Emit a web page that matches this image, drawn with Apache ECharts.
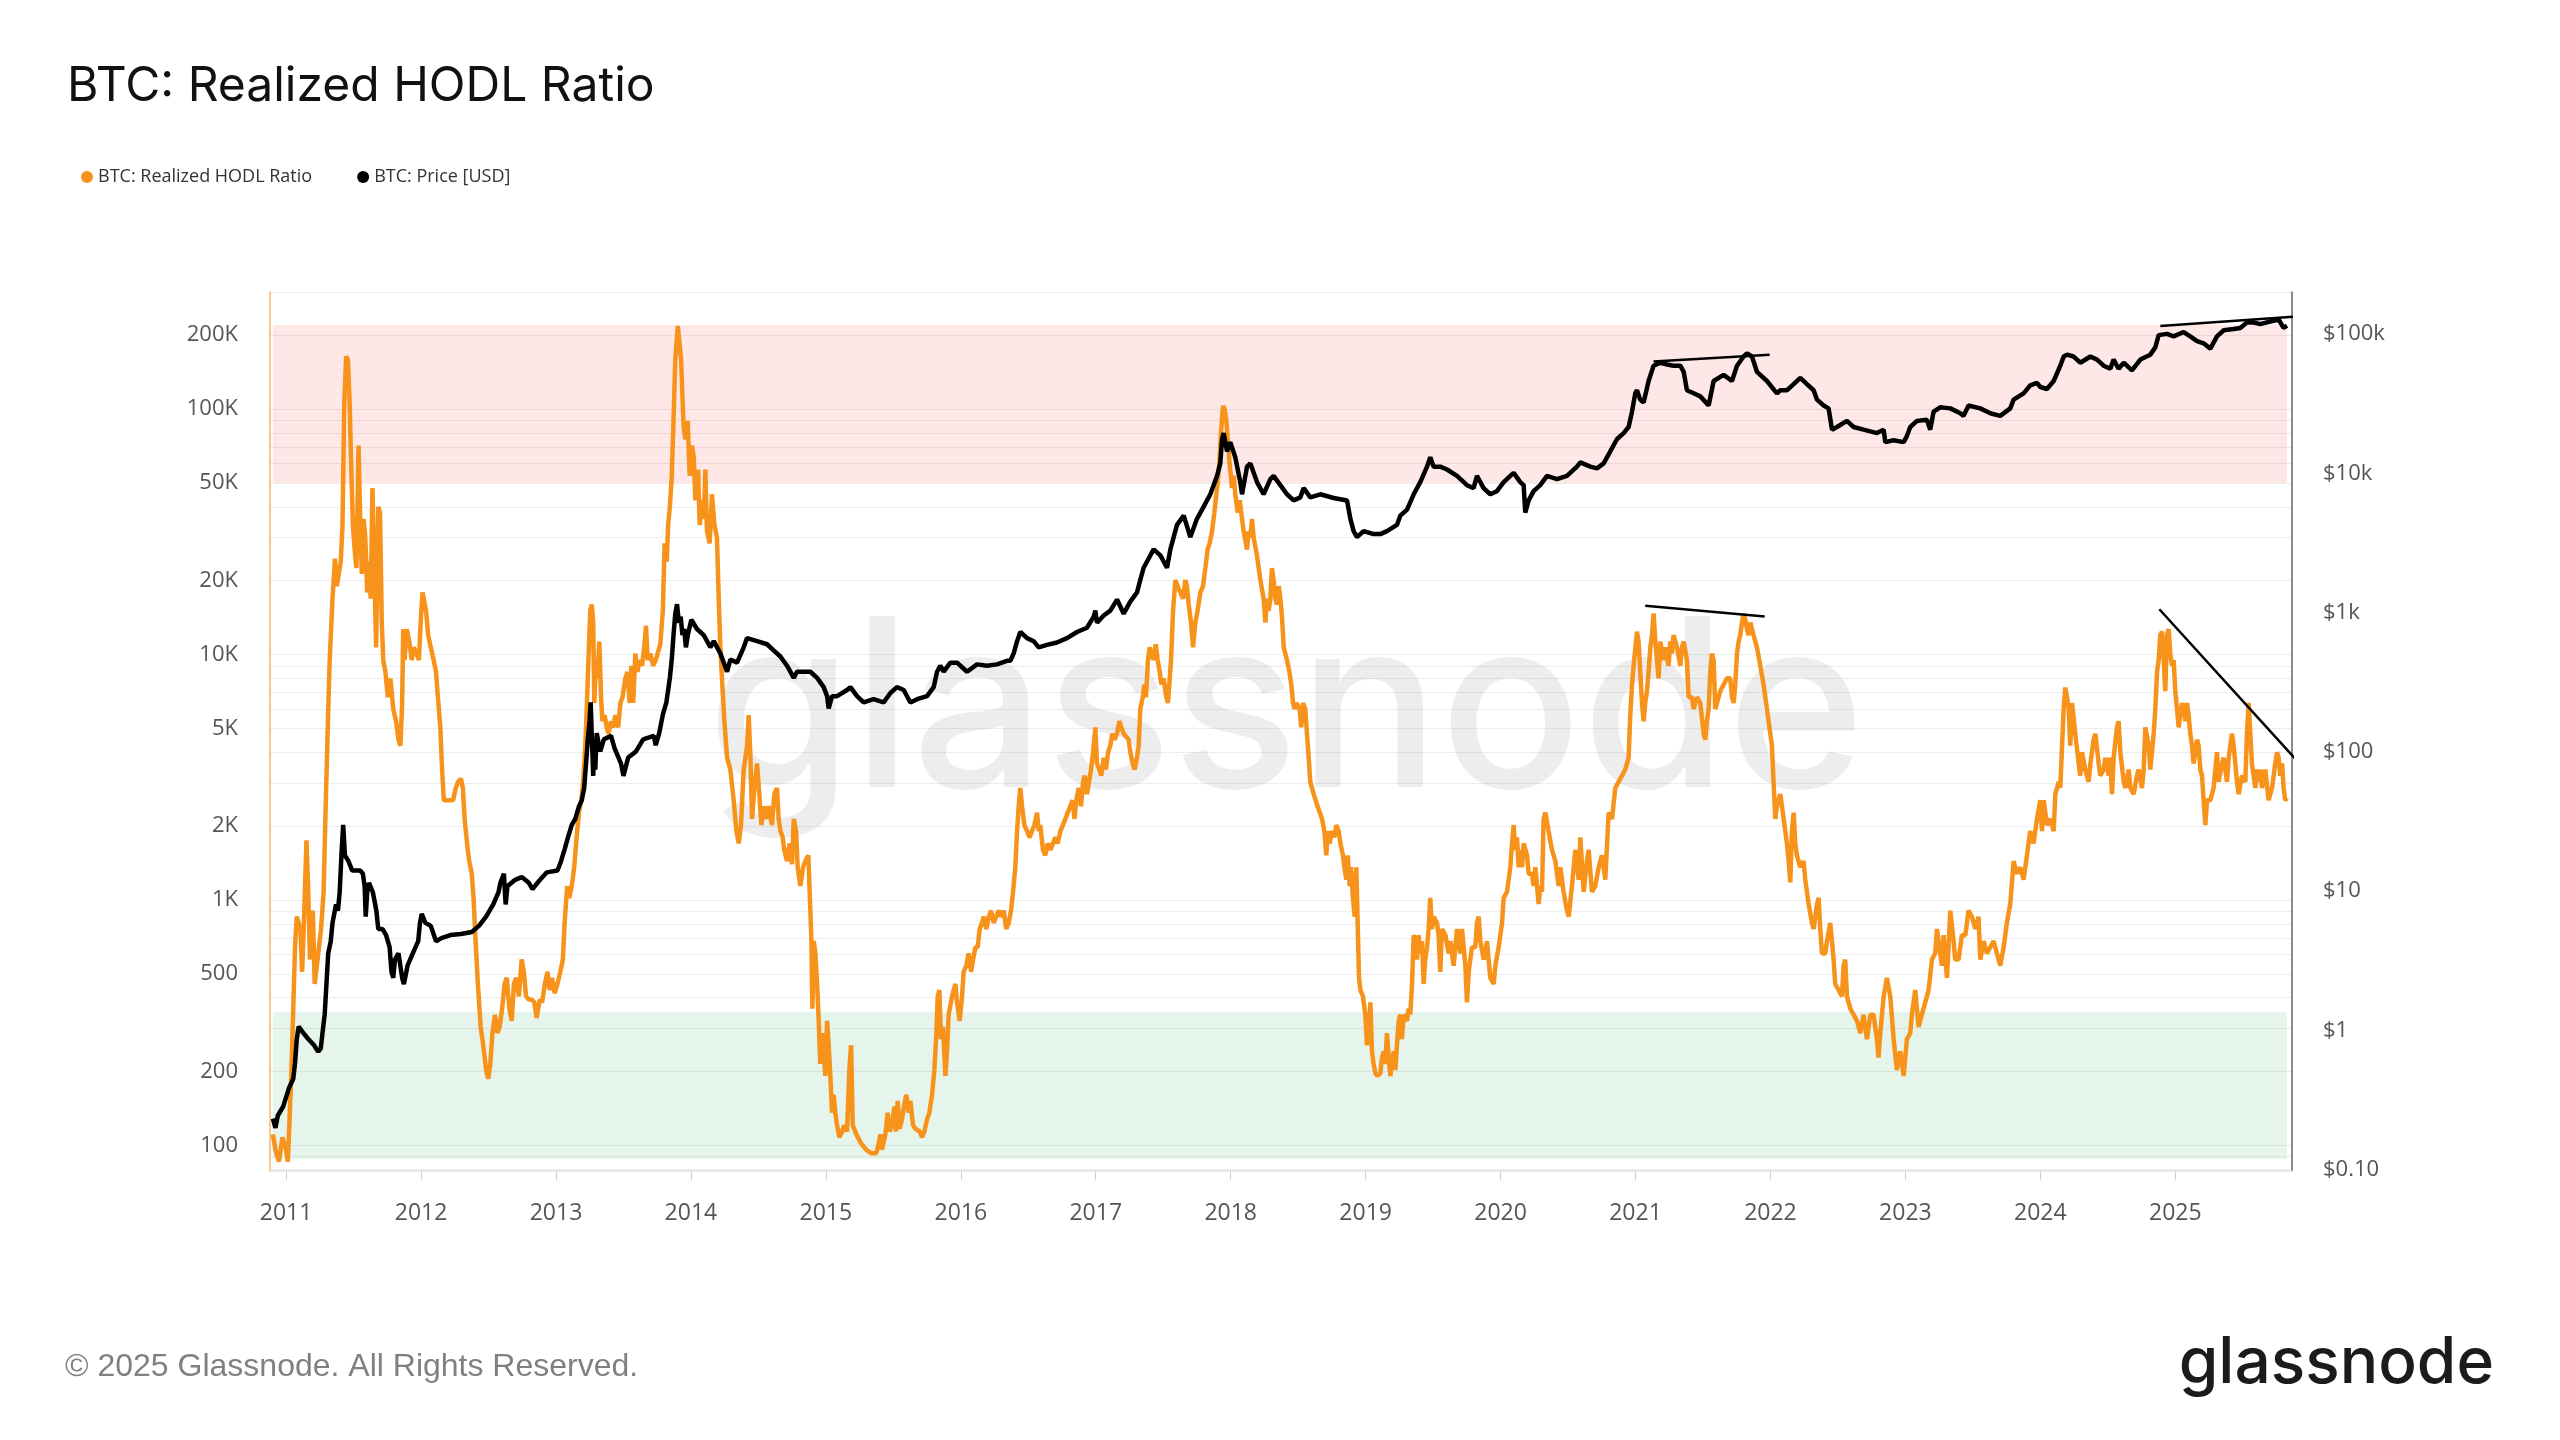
<!DOCTYPE html>
<html>
<head>
<meta charset="utf-8">
<title>BTC: Realized HODL Ratio</title>
<script src="https://cdn.jsdelivr.net/npm/echarts@6/dist/echarts.min.js"></script>
<style>
  html, body { margin: 0; padding: 0; background: #fff; }
  #chart { width: 2560px; height: 1440px; }
</style>
</head>
<body>
<div id="chart"></div>
<script>
// values, [decimal year, value]
const hodlRatio = [
  [2010.902,111],[2010.921,96],[2010.947,86],[2010.973,108],[2011.000,96],[2011.013,86],[2011.040,203],[2011.066,642],
  [2011.079,855],[2011.106,762],[2011.119,510],[2011.132,807],[2011.151,1750],[2011.164,1080],[2011.177,572],[2011.198,905],
  [2011.212,455],[2011.238,606],[2011.259,762],[2011.278,1080],[2011.291,2140],[2011.310,5350],[2011.323,9500],[2011.344,16900],
  [2011.362,24600],[2011.376,19000],[2011.405,23900],[2011.418,33700],[2011.431,106000],[2011.445,164000],[2011.458,159000],
  [2011.471,106000],[2011.482,60000],[2011.495,33700],[2011.508,26800],[2011.521,22500],[2011.537,71000],[2011.550,33700],
  [2011.561,21300],[2011.574,35700],[2011.587,30000],[2011.601,17900],[2011.614,23900],[2011.627,16900],[2011.640,47700],
  [2011.654,47700],[2011.667,10700],[2011.683,40000],[2011.696,37900],[2011.709,13500],[2011.720,9500],[2011.736,8500],
  [2011.754,6700],[2011.773,8000],[2011.794,6000],[2011.815,5350],[2011.833,4500],[2011.847,4250],[2011.860,6350],
  [2011.868,12700],[2011.878,9500],[2011.894,12700],[2011.913,11300],[2011.931,9500],[2011.947,10700],[2011.966,10100],
  [2011.984,9500],[2011.997,13500],[2012.011,17900],[2012.024,17900],[2012.037,15100],[2012.053,12000],[2012.072,10700],
  [2012.093,9500],[2012.111,8500],[2012.125,6700],[2012.143,5050],[2012.156,3400],[2012.169,2550],[2012.204,2550],
  [2012.238,2550],[2012.257,2860],[2012.275,3030],[2012.296,3120],[2012.310,2860],[2012.323,2140],[2012.341,1700],
  [2012.357,1440],[2012.376,1280],[2012.389,1020],[2012.402,719],[2012.421,455],[2012.442,304],[2012.461,256],[2012.482,203],
  [2012.498,187],[2012.513,215],[2012.529,287],[2012.548,341],[2012.566,287],[2012.582,304],[2012.601,361],[2012.619,455],
  [2012.635,482],[2012.654,361],[2012.672,322],[2012.688,455],[2012.707,482],[2012.725,405],[2012.746,573],[2012.762,510],
  [2012.778,405],[2012.799,393],[2012.820,393],[2012.839,383],[2012.857,331],[2012.879,393],[2012.897,383],[2012.918,455],
  [2012.937,510],[2012.953,430],[2012.971,482],[2012.990,417],[2013.011,455],[2013.032,510],[2013.051,572],[2013.064,807],
  [2013.083,1140],[2013.098,1020],[2013.117,1140],[2013.135,1360],[2013.149,1700],[2013.170,2270],[2013.188,2550],
  [2013.201,3030],[2013.217,4250],[2013.228,6000],[2013.244,10700],[2013.254,15100],[2013.265,16000],[2013.276,13500],
  [2013.284,6350],[2013.297,9500],[2013.307,8000],[2013.321,11300],[2013.334,6700],[2013.344,5350],[2013.360,5670],
  [2013.376,5050],[2013.389,4760],[2013.408,5350],[2013.424,5050],[2013.440,5670],[2013.461,5050],[2013.477,6350],
  [2013.493,6700],[2013.514,8000],[2013.530,8500],[2013.546,6350],[2013.559,9000],[2013.572,6350],[2013.588,10100],
  [2013.604,8500],[2013.620,9500],[2013.638,9000],[2013.654,10700],[2013.667,13100],[2013.680,9500],[2013.699,10100],
  [2013.720,9000],[2013.739,9500],[2013.773,11000],[2013.792,15100],[2013.805,28400],[2013.821,23900],[2013.831,33700],
  [2013.844,40000],[2013.858,53500],[2013.871,89500],[2013.884,159000],[2013.903,218000],[2013.927,159000],[2013.946,84500],
  [2013.959,75300],[2013.976,89500],[2013.991,53500],[2014.008,71000],[2014.021,63500],[2014.033,42500],[2014.053,56700],
  [2014.065,33700],[2014.082,42500],[2014.095,35700],[2014.107,56700],[2014.119,31800],[2014.139,28400],[2014.156,45000],
  [2014.174,33700],[2014.193,30000],[2014.206,16900],[2014.218,10700],[2014.230,8000],[2014.248,5350],[2014.268,3800],
  [2014.292,3400],[2014.317,2550],[2014.337,1910],[2014.354,1700],[2014.371,2020],[2014.391,3400],[2014.416,4250],
  [2014.428,5670],[2014.441,3800],[2014.453,2140],[2014.470,2860],[2014.490,3600],[2014.507,2700],[2014.522,2020],
  [2014.539,2410],[2014.559,2140],[2014.576,2410],[2014.601,2020],[2014.618,2700],[2014.638,2860],[2014.650,2140],
  [2014.663,1910],[2014.680,1800],[2014.692,1600],[2014.712,1440],[2014.732,1700],[2014.749,1400],[2014.762,2140],
  [2014.779,1910],[2014.791,1360],[2014.811,1140],[2014.831,1360],[2014.848,1440],[2014.870,1520],[2014.880,1080],
  [2014.893,680],[2014.900,361],[2014.910,680],[2014.922,606],[2014.935,455],[2014.947,322],[2014.959,215],[2014.972,287],
  [2014.984,242],[2014.996,192],[2015.009,322],[2015.021,256],[2015.033,192],[2015.046,136],[2015.058,161],[2015.070,136],
  [2015.083,121],[2015.100,108],[2015.120,114],[2015.137,121],[2015.157,114],[2015.174,203],[2015.187,256],[2015.199,121],
  [2015.226,111],[2015.261,102],[2015.300,96],[2015.335,93],[2015.374,93],[2015.392,102],[2015.404,111],[2015.416,96],
  [2015.441,111],[2015.458,136],[2015.473,114],[2015.490,121],[2015.508,144],[2015.520,114],[2015.532,152],[2015.547,117],
  [2015.564,128],[2015.582,148],[2015.596,161],[2015.614,136],[2015.626,152],[2015.646,121],[2015.663,117],[2015.695,114],
  [2015.713,108],[2015.730,114],[2015.750,128],[2015.767,136],[2015.787,161],[2015.804,203],[2015.819,287],[2015.829,405],
  [2015.841,430],[2015.853,271],[2015.868,304],[2015.886,192],[2015.898,242],[2015.910,341],[2015.935,405],[2015.960,455],
  [2015.972,383],[2015.992,322],[2016.009,405],[2016.021,510],[2016.041,540],[2016.058,606],[2016.076,510],[2016.091,572],
  [2016.108,642],[2016.125,642],[2016.140,762],[2016.157,807],[2016.170,855],[2016.189,762],[2016.207,855],[2016.224,905],
  [2016.244,807],[2016.261,855],[2016.281,905],[2016.298,855],[2016.318,905],[2016.337,762],[2016.355,807],[2016.372,905],
  [2016.387,1080],[2016.404,1360],[2016.417,1910],[2016.429,2410],[2016.441,2860],[2016.454,2410],[2016.471,2020],
  [2016.491,1910],[2016.510,1800],[2016.528,1910],[2016.545,2020],[2016.565,2270],[2016.577,1910],[2016.589,2020],
  [2016.609,1600],[2016.626,1520],[2016.644,1700],[2016.664,1600],[2016.683,1700],[2016.701,1800],[2016.718,1700],
  [2016.738,1910],[2016.757,2020],[2016.775,2140],[2016.792,2270],[2016.812,2410],[2016.829,2550],[2016.842,2140],
  [2016.856,2550],[2016.874,2860],[2016.891,2410],[2016.906,3030],[2016.918,3210],[2016.935,2700],[2016.948,2700],
  [2016.965,3400],[2016.980,4000],[2016.997,5050],[2017.009,3600],[2017.027,3400],[2017.041,3210],[2017.059,3800],
  [2017.076,3400],[2017.091,4000],[2017.108,4250],[2017.123,4760],[2017.140,4500],[2017.158,4760],[2017.175,5350],
  [2017.190,5050],[2017.207,4760],[2017.244,4500],[2017.256,4000],[2017.274,3600],[2017.288,3400],[2017.306,3800],
  [2017.318,4250],[2017.330,6000],[2017.348,6700],[2017.360,7550],[2017.372,6700],[2017.387,9500],[2017.400,10700],
  [2017.412,10100],[2017.429,9500],[2017.444,11000],[2017.459,9500],[2017.474,8500],[2017.486,7550],[2017.503,8000],
  [2017.523,6700],[2017.535,6350],[2017.558,9500],[2017.573,15100],[2017.590,20100],[2017.607,19000],[2017.627,17900],
  [2017.647,16900],[2017.664,20100],[2017.676,19000],[2017.689,16000],[2017.706,13500],[2017.721,10700],[2017.738,13500],
  [2017.755,15100],[2017.775,17900],[2017.795,19000],[2017.812,22500],[2017.829,26800],[2017.844,28400],[2017.862,31800],
  [2017.879,37900],[2017.899,47700],[2017.916,60000],[2017.928,79800],[2017.943,103000],[2017.955,100000],[2017.968,89500],
  [2017.978,75300],[2017.992,60000],[2018.010,47700],[2018.022,53500],[2018.034,45000],[2018.052,37900],[2018.067,42500],
  [2018.084,35700],[2018.096,31800],[2018.121,26800],[2018.133,31800],[2018.146,30000],[2018.158,35700],[2018.170,30000],
  [2018.195,25300],[2018.220,20100],[2018.244,16900],[2018.257,13500],[2018.269,16900],[2018.281,15100],[2018.294,16900],
  [2018.306,22500],[2018.318,20100],[2018.331,16900],[2018.343,16000],[2018.356,19000],[2018.368,16900],[2018.380,14300],
  [2018.393,10700],[2018.417,9500],[2018.435,8500],[2018.449,7550],[2018.462,6350],[2018.474,6000],[2018.487,6350],
  [2018.511,6000],[2018.523,5050],[2018.536,6350],[2018.553,6000],[2018.565,4760],[2018.578,3800],[2018.590,3030],
  [2018.615,2700],[2018.644,2410],[2018.677,2140],[2018.694,1910],[2018.709,1520],[2018.719,1910],[2018.733,1700],
  [2018.751,1910],[2018.768,1800],[2018.783,2020],[2018.800,1910],[2018.813,1700],[2018.832,1520],[2018.842,1360],
  [2018.857,1210],[2018.867,1520],[2018.882,1140],[2018.892,1360],[2018.906,1020],[2018.919,855],[2018.931,1360],
  [2018.941,807],[2018.951,482],[2018.961,430],[2018.980,405],[2018.998,341],[2019.010,256],[2019.022,287],[2019.035,383],
  [2019.047,242],[2019.059,215],[2019.072,197],[2019.084,192],[2019.109,197],[2019.121,228],[2019.134,242],[2019.146,215],
  [2019.158,287],[2019.171,228],[2019.183,192],[2019.195,215],[2019.208,242],[2019.220,203],[2019.232,256],[2019.245,322],
  [2019.257,341],[2019.269,271],[2019.282,341],[2019.307,322],[2019.319,361],[2019.331,341],[2019.344,455],[2019.356,719],
  [2019.368,680],[2019.381,572],[2019.393,719],[2019.405,606],[2019.418,680],[2019.430,455],[2019.442,572],[2019.455,642],
  [2019.467,762],[2019.479,1020],[2019.492,762],[2019.504,855],[2019.529,807],[2019.541,719],[2019.553,510],[2019.566,762],
  [2019.591,719],[2019.615,606],[2019.628,680],[2019.652,540],[2019.677,762],[2019.702,606],[2019.714,762],[2019.739,540],
  [2019.751,383],[2019.764,510],[2019.788,642],[2019.813,642],[2019.825,807],[2019.838,855],[2019.850,680],[2019.875,572],
  [2019.899,680],[2019.924,482],[2019.949,455],[2019.961,540],[2019.986,642],[2020.011,807],[2020.023,1020],[2020.048,1080],
  [2020.072,1360],[2020.085,1700],[2020.097,2020],[2020.109,1600],[2020.122,1800],[2020.134,1360],[2020.146,1600],
  [2020.159,1360],[2020.171,1700],[2020.196,1520],[2020.208,1280],[2020.233,1280],[2020.245,1140],[2020.258,1360],
  [2020.282,962],[2020.294,1140],[2020.307,1080],[2020.319,2140],[2020.332,2270],[2020.356,1910],[2020.381,1600],
  [2020.406,1440],[2020.430,1140],[2020.443,1360],[2020.467,1080],[2020.492,905],[2020.505,855],[2020.529,1140],
  [2020.554,1600],[2020.579,1210],[2020.591,1800],[2020.616,1080],[2020.640,1440],[2020.653,1600],[2020.677,1080],
  [2020.702,1140],[2020.727,1360],[2020.751,1520],[2020.776,1210],[2020.801,2270],[2020.826,2140],[2020.850,2860],
  [2020.875,3030],[2020.900,3210],[2020.924,3400],[2020.949,3800],[2020.961,5670],[2020.974,7550],[2020.986,9000],
  [2021.011,12400],[2021.023,11300],[2021.035,8500],[2021.048,6350],[2021.060,5350],[2021.072,6350],[2021.085,7100],
  [2021.097,8500],[2021.110,10700],[2021.122,12000],[2021.134,14700],[2021.147,11300],[2021.159,9500],[2021.171,8000],
  [2021.184,11300],[2021.208,9500],[2021.221,10700],[2021.245,9000],[2021.258,11300],[2021.270,10100],[2021.282,12000],
  [2021.307,10700],[2021.332,9000],[2021.344,10700],[2021.357,11300],[2021.381,9500],[2021.394,6700],[2021.418,6700],
  [2021.431,6000],[2021.455,6700],[2021.480,6350],[2021.505,4760],[2021.517,4500],[2021.529,5350],[2021.542,6000],
  [2021.554,8500],[2021.566,10100],[2021.579,9500],[2021.591,6000],[2021.604,6350],[2021.628,7100],[2021.653,7550],
  [2021.678,8000],[2021.702,8000],[2021.715,6700],[2021.727,6350],[2021.739,7550],[2021.752,10100],[2021.764,11300],
  [2021.776,12000],[2021.789,13500],[2021.801,14700],[2021.813,13900],[2021.826,12700],[2021.838,12000],[2021.851,13500],
  [2021.863,12700],[2021.875,12000],[2021.900,10700],[2021.925,9000],[2021.949,7550],[2021.974,6000],[2021.999,4760],
  [2022.011,4250],[2022.023,3030],[2022.036,2140],[2022.048,2410],[2022.073,2700],[2022.098,2140],[2022.122,1700],
  [2022.135,1440],[2022.147,1180],[2022.159,1910],[2022.172,2270],[2022.184,1700],[2022.196,1520],[2022.221,1360],
  [2022.246,1440],[2022.258,1210],[2022.283,962],[2022.307,807],[2022.320,762],[2022.345,962],[2022.357,1020],[2022.369,762],
  [2022.382,606],[2022.406,606],[2022.419,680],[2022.443,807],[2022.456,680],[2022.468,572],[2022.480,455],[2022.505,430],
  [2022.530,405],[2022.542,540],[2022.554,572],[2022.567,405],[2022.592,361],[2022.616,341],[2022.641,322],[2022.666,287],
  [2022.690,341],[2022.715,271],[2022.740,341],[2022.764,341],[2022.789,271],[2022.801,228],[2022.814,287],[2022.839,405],
  [2022.863,482],[2022.888,405],[2022.913,271],[2022.937,203],[2022.962,242],[2022.987,192],[2023.011,271],[2023.036,287],
  [2023.048,341],[2023.073,430],[2023.098,304],[2023.122,341],[2023.147,383],[2023.172,430],[2023.197,572],[2023.221,606],
  [2023.234,762],[2023.258,606],[2023.271,540],[2023.283,719],[2023.308,482],[2023.333,905],[2023.357,680],[2023.369,572],
  [2023.394,572],[2023.419,719],[2023.444,719],[2023.468,905],[2023.493,855],[2023.518,762],[2023.542,855],[2023.555,572],
  [2023.580,680],[2023.604,606],[2023.629,642],[2023.654,680],[2023.678,606],[2023.703,540],[2023.728,642],[2023.752,807],
  [2023.777,962],[2023.802,1440],[2023.826,1280],[2023.851,1360],[2023.876,1210],[2023.901,1520],[2023.925,1910],
  [2023.950,1700],[2023.975,2140],[2024.000,2550],[2024.012,1910],[2024.025,2550],[2024.049,2020],[2024.074,2140],
  [2024.099,1910],[2024.111,2700],[2024.136,3030],[2024.148,2860],[2024.161,4250],[2024.173,6000],[2024.185,7340],
  [2024.198,6700],[2024.210,6000],[2024.222,4250],[2024.235,6350],[2024.259,4760],[2024.284,3600],[2024.296,3210],
  [2024.309,4000],[2024.333,3400],[2024.358,3030],[2024.371,3600],[2024.395,4500],[2024.408,4760],[2024.432,3600],
  [2024.445,3210],[2024.469,3400],[2024.482,3800],[2024.506,3210],[2024.519,3800],[2024.531,2700],[2024.543,3800],
  [2024.568,5050],[2024.580,5350],[2024.593,4000],[2024.618,3030],[2024.630,2860],[2024.655,3400],[2024.667,2860],
  [2024.692,2700],[2024.716,3210],[2024.729,3400],[2024.753,2860],[2024.766,3400],[2024.778,5050],[2024.803,4250],
  [2024.815,3400],[2024.840,4760],[2024.852,6000],[2024.865,8500],[2024.877,9500],[2024.889,12000],[2024.902,12400],
  [2024.914,9500],[2024.926,7100],[2024.939,12000],[2024.951,12700],[2024.963,10100],[2024.976,9000],[2024.988,9500],
  [2025.000,7100],[2025.013,6000],[2025.025,5050],[2025.037,5670],[2025.050,6350],[2025.062,6000],[2025.074,5350],
  [2025.087,6350],[2025.099,5670],[2025.111,4760],[2025.124,4250],[2025.136,3600],[2025.149,4000],[2025.161,4500],
  [2025.173,4250],[2025.186,3400],[2025.198,3210],[2025.210,2550],[2025.223,2020],[2025.235,2550],[2025.260,2550],
  [2025.272,2700],[2025.284,2860],[2025.297,3400],[2025.309,4000],[2025.321,3030],[2025.346,3600],[2025.359,3800],
  [2025.383,3030],[2025.396,3800],[2025.420,4760],[2025.433,4250],[2025.457,3030],[2025.470,2700],[2025.494,3210],
  [2025.519,3030],[2025.531,4760],[2025.544,6350],[2025.556,4760],[2025.568,3600],[2025.593,2860],[2025.606,3400],
  [2025.618,3030],[2025.630,3400],[2025.643,2860],[2025.667,3400],[2025.692,2550],[2025.717,2860],[2025.741,3600],
  [2025.754,4000],[2025.766,3800],[2025.778,3210],[2025.791,3600],[2025.803,2860],[2025.815,2550],[2025.828,2600]
];

const btcPrice = [
  [2010.902,0.225],[2010.921,0.193],[2010.939,0.237],[2010.979,0.276],[2011.021,0.373],[2011.053,0.435],[2011.066,0.56],
  [2011.079,0.84],[2011.093,1.03],[2011.127,0.93],[2011.164,0.84],[2011.206,0.76],[2011.238,0.68],[2011.257,0.72],
  [2011.270,0.93],[2011.286,1.26],[2011.299,2.08],[2011.312,3.46],[2011.331,4.23],[2011.344,5.73],[2011.370,7.76],
  [2011.384,7.0],[2011.397,9.5],[2011.410,17.5],[2011.423,28.9],[2011.436,17.5],[2011.463,15.8],[2011.490,13.6],
  [2011.516,13.6],[2011.550,13.6],[2011.569,12.9],[2011.582,10.5],[2011.590,6.34],[2011.601,9.5],[2011.614,11.1],
  [2011.643,9.5],[2011.669,7.0],[2011.683,5.18],[2011.714,5.18],[2011.741,4.68],[2011.767,3.83],[2011.781,2.55],
  [2011.794,2.31],[2011.807,3.13],[2011.833,3.46],[2011.860,2.31],[2011.873,2.08],[2011.900,2.82],[2011.939,3.46],
  [2011.979,4.23],[2011.992,5.73],[2012.005,6.65],[2012.032,5.73],[2012.072,5.45],[2012.111,4.23],[2012.151,4.45],
  [2012.217,4.68],[2012.296,4.77],[2012.376,4.93],[2012.429,5.45],[2012.482,6.34],[2012.535,7.76],[2012.574,9.5],
  [2012.588,11.1],[2012.614,12.9],[2012.627,7.76],[2012.640,10.5],[2012.693,11.6],[2012.746,12.2],[2012.799,11.1],
  [2012.826,10.0],[2012.879,11.6],[2012.932,13.2],[2013.011,13.6],[2013.037,15.8],[2013.064,19.3],[2013.090,23.7],
  [2013.117,28.9],[2013.143,32],[2013.170,39.2],[2013.191,43.4],[2013.209,53.2],[2013.223,79.6],[2013.236,119],
  [2013.249,162],[2013.257,219],[2013.268,108],[2013.276,65],[2013.283,108],[2013.291,72],[2013.302,132],[2013.328,97.5],
  [2013.355,119],[2013.408,126],[2013.434,103],[2013.482,79.6],[2013.500,65],[2013.535,88],[2013.593,97.5],[2013.646,119],
  [2013.725,126],[2013.739,108],[2013.765,132],[2013.792,179],[2013.818,219],[2013.844,329],[2013.858,445],[2013.871,667],
  [2013.884,950],[2013.897,1110],[2013.911,817],[2013.924,904],[2013.937,667],[2013.950,738],[2013.963,545],[2013.977,667],
  [2014.003,860],[2014.045,738],[2014.095,667],[2014.144,545],[2014.169,603],[2014.218,493],[2014.268,364],[2014.292,445],
  [2014.342,423],[2014.391,545],[2014.416,634],[2014.490,603],[2014.564,573],[2014.613,518],[2014.663,468],[2014.712,402],
  [2014.762,329],[2014.786,364],[2014.836,364],[2014.885,364],[2014.935,329],[2014.984,282],[2015.009,243],[2015.021,198],
  [2015.033,219],[2015.046,243],[2015.083,243],[2015.157,269],[2015.182,282],[2015.231,243],[2015.280,219],[2015.354,231],
  [2015.428,219],[2015.478,256],[2015.527,282],[2015.577,269],[2015.626,219],[2015.676,231],[2015.750,243],[2015.799,282],
  [2015.824,364],[2015.848,402],[2015.873,364],[2015.923,423],[2015.972,423],[2016.046,364],[2016.120,411],[2016.194,402],
  [2016.268,411],[2016.342,436],[2016.367,436],[2016.392,493],[2016.417,603],[2016.441,702],[2016.491,634],[2016.540,603],
  [2016.577,545],[2016.639,567],[2016.713,590],[2016.787,634],[2016.861,702],[2016.935,753],[2016.985,904],[2016.997,1000],
  [2017.009,817],[2017.059,922],[2017.108,1000],[2017.158,1200],[2017.207,950],[2017.256,1160],[2017.306,1350],
  [2017.330,1660],[2017.355,2030],[2017.380,2250],[2017.429,2750],[2017.479,2490],[2017.528,2030],[2017.553,2750],
  [2017.602,4120],[2017.652,4800],[2017.701,3370],[2017.750,4560],[2017.800,5580],[2017.849,6840],[2017.899,9270],
  [2017.923,11400],[2017.936,17000],[2017.948,18800],[2017.973,13900],[2017.997,16200],[2018.034,12600],[2018.071,8370],
  [2018.084,6840],[2018.121,10800],[2018.146,11400],[2018.195,8370],[2018.244,6840],[2018.294,8800],[2018.318,9270],
  [2018.368,7950],[2018.417,6840],[2018.467,6180],[2018.516,6500],[2018.541,7570],[2018.590,6500],[2018.664,6840],
  [2018.763,6430],[2018.862,6180],[2018.887,4560],[2018.911,3720],[2018.936,3370],[2018.985,3720],[2019.059,3540],
  [2019.109,3540],[2019.158,3720],[2019.232,4120],[2019.257,4800],[2019.307,5310],[2019.356,6840],[2019.405,8370],
  [2019.455,10800],[2019.479,12600],[2019.504,10800],[2019.553,10800],[2019.603,10300],[2019.677,9270],[2019.751,7950],
  [2019.800,7570],[2019.825,9270],[2019.874,7570],[2019.924,6840],[2019.973,7200],[2020.023,8370],[2020.072,9270],
  [2020.097,9750],[2020.146,8370],[2020.171,7950],[2020.183,5050],[2020.208,6180],[2020.245,7200],[2020.294,7950],
  [2020.344,9270],[2020.418,8800],[2020.492,9270],[2020.566,10800],[2020.591,11600],[2020.665,10800],[2020.714,10500],
  [2020.764,11400],[2020.813,13900],[2020.862,17000],[2020.912,18800],[2020.949,20800],[2020.974,26800],[2020.998,36300],
  [2021.011,38200],[2021.035,32700],[2021.060,31200],[2021.097,44500],[2021.134,57300],[2021.184,60200],[2021.233,58500],
  [2021.282,57300],[2021.332,57300],[2021.357,51800],[2021.381,38200],[2021.431,36300],[2021.480,34500],[2021.542,29700],
  [2021.579,44500],[2021.653,49200],[2021.715,44500],[2021.752,57300],[2021.801,66700],[2021.826,70200],[2021.863,66700],
  [2021.900,51800],[2021.974,44500],[2022.048,36300],[2022.073,38200],[2022.122,38200],[2022.172,42300],[2022.221,46800],
  [2022.270,42300],[2022.320,38200],[2022.345,32700],[2022.394,29700],[2022.431,28300],[2022.456,19900],[2022.493,20800],
  [2022.567,23000],[2022.616,20800],[2022.690,19900],[2022.789,18800],[2022.839,19900],[2022.851,16200],[2022.913,16700],
  [2022.987,16200],[2023.011,17900],[2023.036,20800],[2023.086,23000],[2023.159,23500],[2023.184,19900],[2023.209,26800],
  [2023.258,28800],[2023.333,28300],[2023.407,26100],[2023.431,25000],[2023.468,29700],[2023.555,28300],[2023.629,26100],
  [2023.703,25000],[2023.777,28300],[2023.802,32700],[2023.876,36300],[2023.925,41400],[2023.975,43200],[2024.000,40300],
  [2024.049,39000],[2024.099,44500],[2024.148,57300],[2024.173,66700],[2024.198,68800],[2024.247,66700],[2024.296,60200],
  [2024.371,66700],[2024.420,63400],[2024.469,57300],[2024.519,54500],[2024.543,63400],[2024.580,54500],[2024.618,60200],
  [2024.679,53000],[2024.741,63400],[2024.815,68800],[2024.852,77600],[2024.877,95000],[2024.939,97000],[2024.988,93000],
  [2025.062,100000],[2025.111,93000],[2025.161,86000],[2025.210,83000],[2025.260,76000],[2025.309,93000],[2025.359,103000],
  [2025.433,105000],[2025.482,107000],[2025.531,117000],[2025.581,117000],[2025.630,114000],[2025.704,119000],
  [2025.766,123000],[2025.803,107000],[2025.828,111000]
];

// hand-drawn trend lines on the original
const priceTrends = [
  [[2021.134, 61500], [2021.994, 68700]],
  [[2024.889, 110600], [2025.872, 128900]]
];
const hodlTrends = [
  [[2021.072, 15800], [2021.957, 14300]],
  [[2024.882, 15300], [2025.951, 3450]]
];

const leftTicks = [100, 200, 500, 1000, 2000, 5000, 10000, 20000, 50000, 100000, 200000];
const leftTickLabels = ['100', '200', '500', '1K', '2K', '5K', '10K', '20K', '50K', '100K', '200K'];
const rightTicks = [0.1, 1, 10, 100, 1000, 10000, 100000];
const rightTickLabels = ['$0.10', '$1', '$10', '$100', '$1k', '$10k', '$100k'];
const years = [2011, 2012, 2013, 2014, 2015, 2016, 2017, 2018, 2019, 2020, 2021, 2022, 2023, 2024, 2025];

const redBand = [50000, 220000];
const greenBand = [88, 350];

const ORANGE = '#F7931A';
const labelFont = { fontFamily: 'Open Sans', fontSize: 22, color: '#555' };

// light log grid lines: 1..9 x 10^n inside the axis range
const gridValues = [];
for (let e = 1; e <= 5; e++) {
  for (let n = 1; n <= 9; n++) {
    const v = n * Math.pow(10, e);
    if (v >= 80 && v <= 300000) gridValues.push(v);
  }
}

const gridLines = gridValues.map(v => {
  const i = leftTicks.indexOf(v);
  return {
    yAxis: v,
    lineStyle: { color: 'rgba(0,0,0,0.07)', width: 1, type: 'solid' },
    label: i >= 0
      ? Object.assign({ show: true, position: 'start', distance: 32, formatter: leftTickLabels[i] }, labelFont)
      : { show: false }
  };
});

// right axis labels ride on invisible lines of the price axis
const rightLabels = rightTicks.map((v, i) => ({
  yAxis: v,
  lineStyle: { color: 'rgba(0,0,0,0)', width: 1, type: 'solid' },
  label: Object.assign({ show: true, position: 'end', distance: 31, offset: [0, 2], formatter: rightTickLabels[i] }, labelFont)
}));

const xStart = hodlRatio[0][0];
const xEnd = hodlRatio[hodlRatio.length - 1][0];

const trendSeries = (segs, axis) => segs.map(seg => ({
  type: 'line',
  yAxisIndex: axis,
  data: seg,
  symbol: 'none',
  clip: false,
  silent: true,
  z: 6,
  lineStyle: { color: '#000', width: 2.5 }
}));

const chart = echarts.init(document.getElementById('chart'));

chart.setOption({
  animation: false,
  backgroundColor: '#fff',
  title: {
    text: 'BTC: Realized HODL Ratio',
    left: 62,
    top: 58,
    textStyle: { fontFamily: 'Inter', fontSize: 48, fontWeight: 400, color: '#111' }
  },
  legend: {
    data: ['BTC: Realized HODL Ratio', 'BTC: Price [USD]'],
    left: 76,
    top: 163,
    icon: 'circle',
    itemWidth: 12,
    itemHeight: 12,
    itemGap: 45,
    textStyle: { fontFamily: 'Open Sans', fontSize: 18, color: '#333' }
  },
  grid: { left: 270, right: 268, top: 292, bottom: 269 },
  xAxis: {
    type: 'value',
    min: 2010.8807,
    max: 2025.865,
    axisLine: { lineStyle: { color: '#e3e3e3', width: 1.5 } },
    axisTick: {
      show: true,
      length: 9,
      customValues: years,
      lineStyle: { color: '#d0d0d0' }
    },
    axisLabel: {
      customValues: years,
      formatter: v => String(v),
      margin: 31,
      fontFamily: 'Open Sans',
      fontSize: 23,
      color: '#555'
    },
    splitLine: { show: false }
  },
  yAxis: [
    {
      type: 'log',
      logBase: 10,
      min: 78.7,
      max: 300000,
      axisLine: { show: true, lineStyle: { color: '#f6b66a', width: 1.5 } },
      axisTick: { show: false },
      axisLabel: { show: false },
      splitLine: { show: false }
    },
    {
      type: 'log',
      logBase: 10,
      position: 'right',
      min: 0.0947,
      max: 193800,
      axisLine: { show: true, lineStyle: { color: '#666', width: 1.5 } },
      axisTick: { show: false },
      axisLabel: { show: false },
      splitLine: { show: false }
    }
  ],
  graphic: [
    {
      type: 'text',
      x: 1286,
      y: 716,
      z: 0,
      silent: true,
      style: {
        text: 'glassnode',
        fontFamily: 'Inter',
        fontSize: 235,
        fontWeight: 500,
        fill: 'rgba(0,0,0,0.07)',
        align: 'center', textAlign: 'center',
        verticalAlign: 'middle', textVerticalAlign: 'middle'
      }
    },
    {
      type: 'text',
      x: 65,
      y: 1367,
      silent: true,
      style: {
        text: '\u00A9 2025 Glassnode. All Rights Reserved.',
        fontFamily: 'Liberation Sans',
        fontSize: 32,
        fill: '#808080',
        align: 'left', textAlign: 'left',
        verticalAlign: 'middle', textVerticalAlign: 'middle'
      }
    },
    {
      type: 'text',
      x: 2494,
      y: 1364,
      silent: true,
      style: {
        text: 'glassnode',
        fontFamily: 'Inter',
        fontSize: 64,
        fontWeight: 500,
        fill: '#1b1b1b',
        align: 'right', textAlign: 'right',
        verticalAlign: 'middle', textVerticalAlign: 'middle'
      }
    }
  ],
  series: [
    {
      name: 'bands',
      type: 'line',
      yAxisIndex: 0,
      data: [],
      silent: true,
      markArea: {
        silent: true,
        data: [
          [{ coord: [xStart, redBand[0]], itemStyle: { color: 'rgba(244,67,54,0.12)' } }, { coord: [xEnd, redBand[1]] }],
          [{ coord: [xStart, greenBand[0]], itemStyle: { color: 'rgba(46,175,100,0.12)' } }, { coord: [xEnd, greenBand[1]] }]
        ]
      },
      markLine: {
        silent: true,
        z: 1,
        symbol: ['none', 'none'],
        data: gridLines
      }
    },
    {
      name: 'BTC: Realized HODL Ratio',
      type: 'line',
      yAxisIndex: 0,
      data: hodlRatio,
      symbol: 'none',
      showSymbol: false,
      z: 3,
      itemStyle: { color: ORANGE },
      lineStyle: { color: ORANGE, width: 4.5 }
    },
    {
      name: 'BTC: Price [USD]',
      type: 'line',
      yAxisIndex: 1,
      data: btcPrice,
      symbol: 'none',
      showSymbol: false,
      z: 4,
      itemStyle: { color: '#000' },
      lineStyle: { color: '#000', width: 4.5 }
    },
    {
      name: 'price axis labels',
      type: 'line',
      yAxisIndex: 1,
      data: [],
      silent: true,
      markLine: {
        silent: true,
        symbol: ['none', 'none'],
        data: rightLabels
      }
    }
  ].concat(trendSeries(priceTrends, 1), trendSeries(hodlTrends, 0))
});
</script>
</body>
</html>
